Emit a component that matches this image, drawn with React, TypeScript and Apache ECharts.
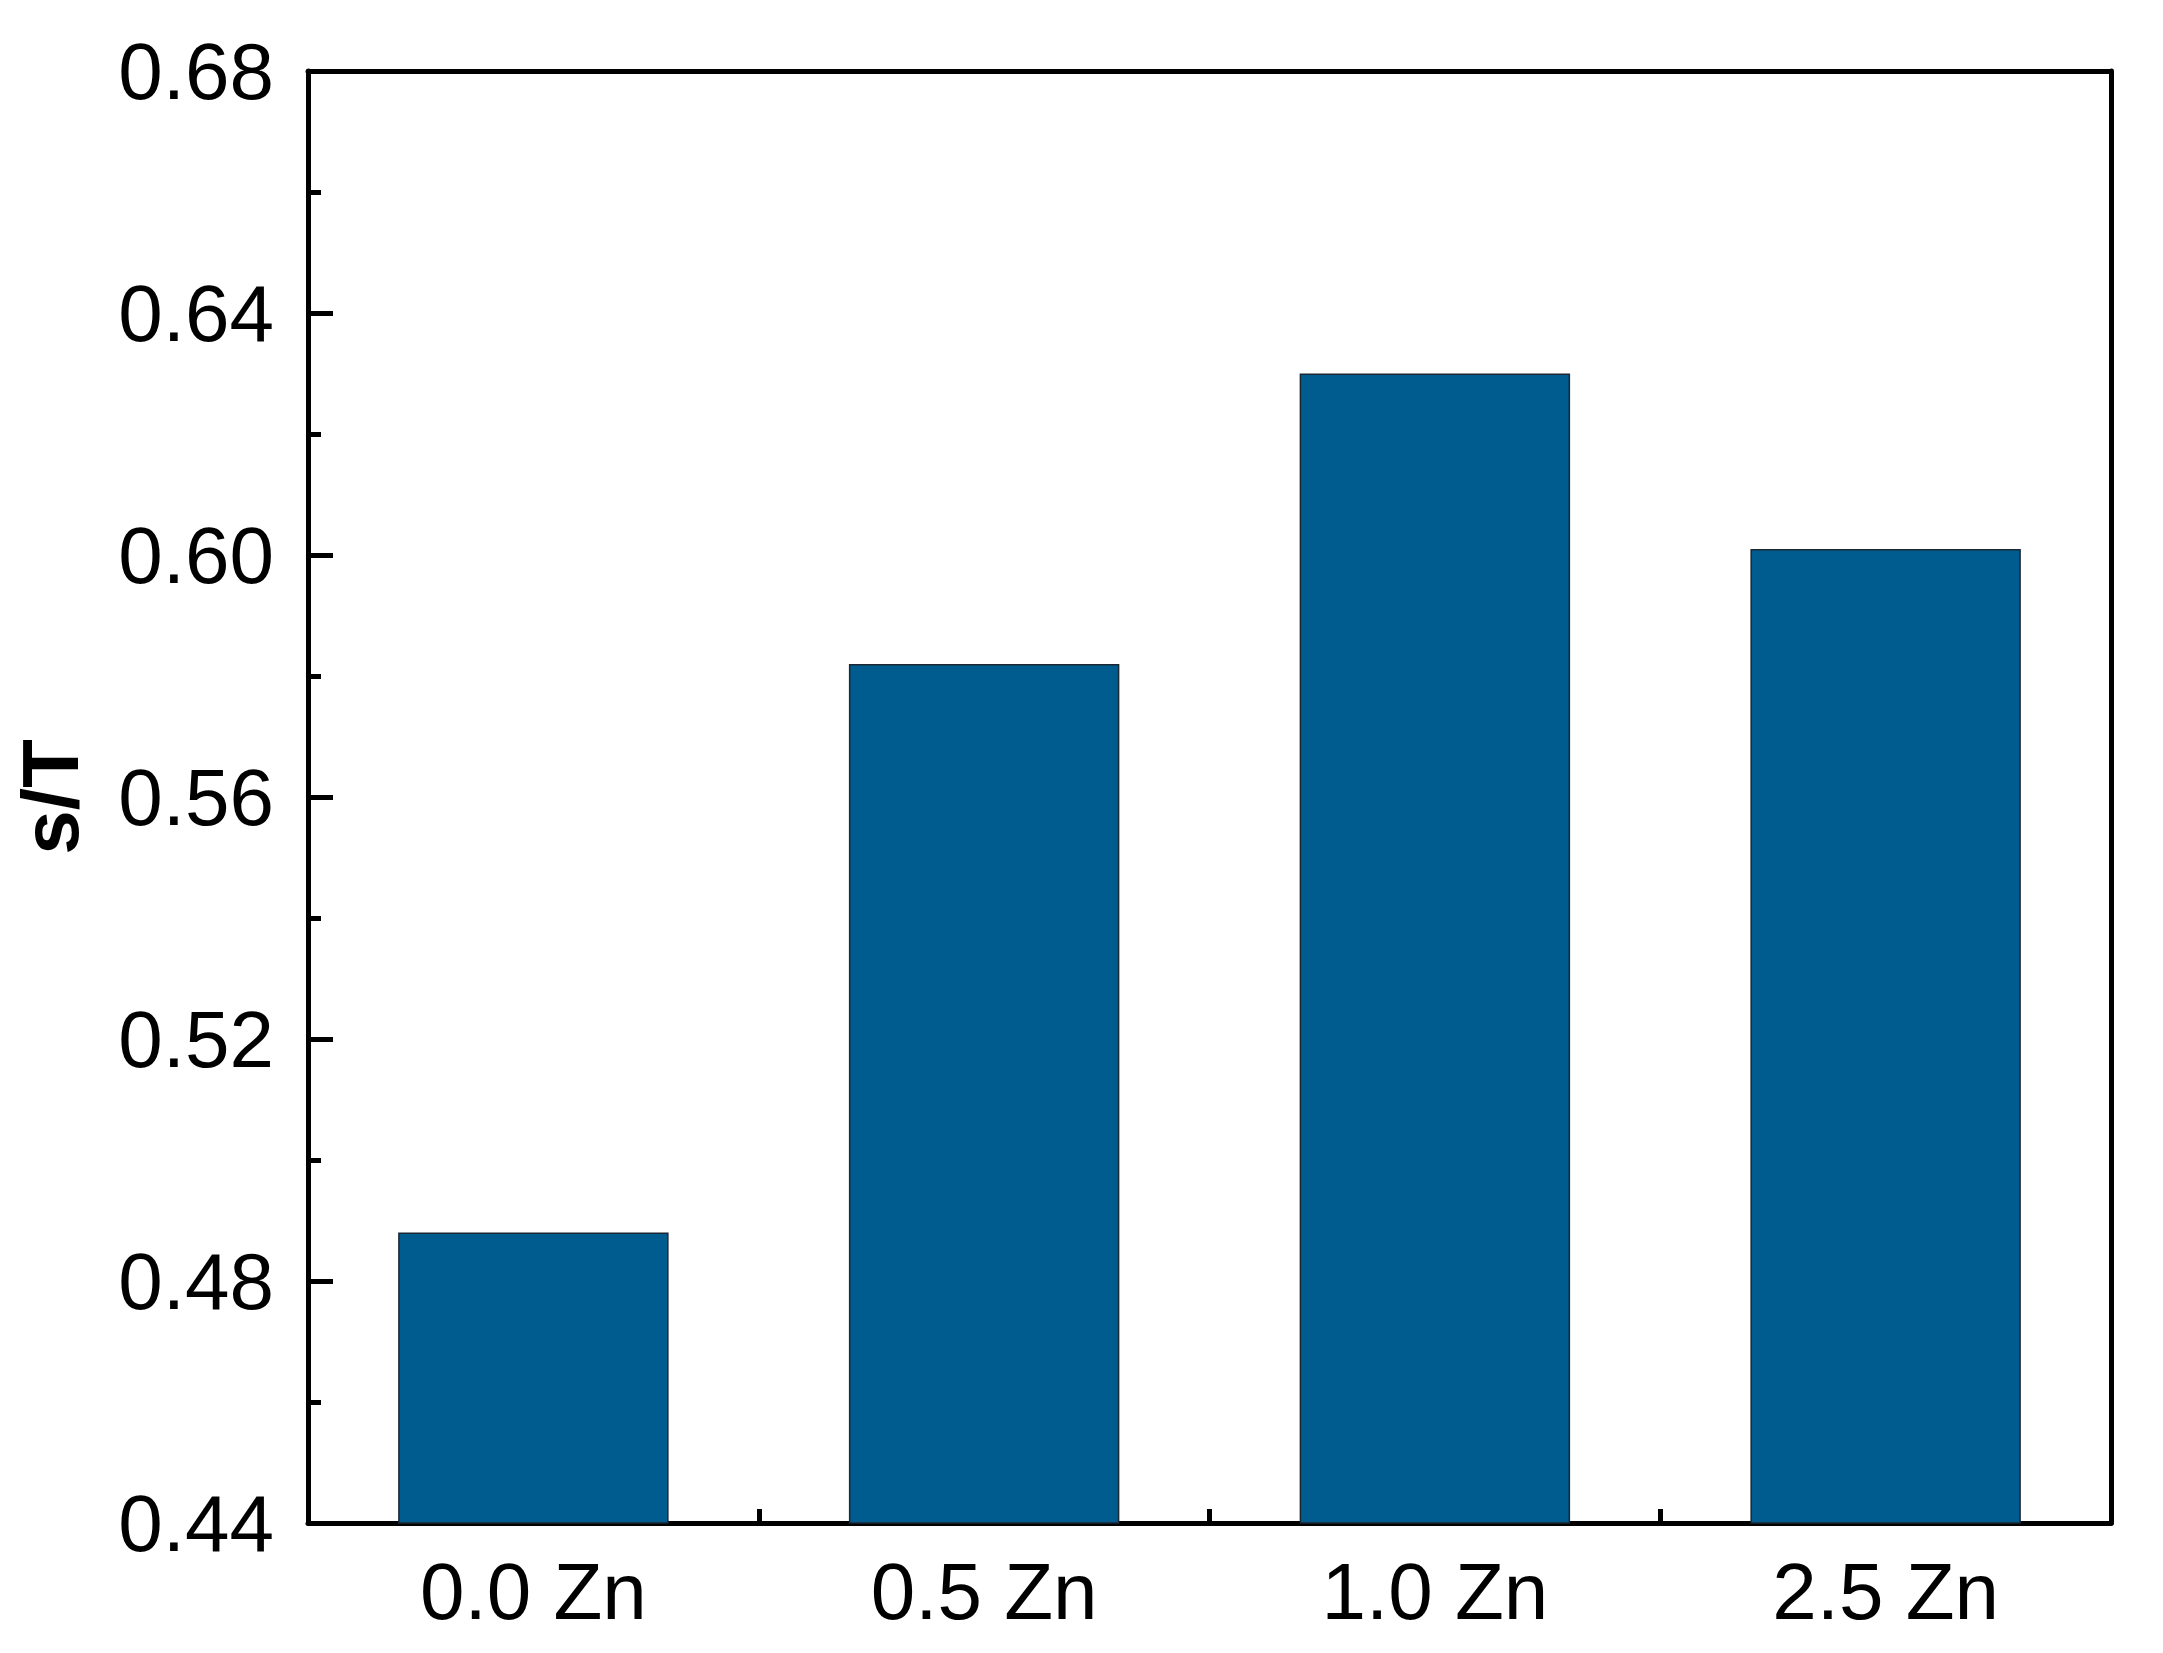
import React, { useEffect, useRef } from "react";
import * as echarts from "echarts";

const categories = ["0.0 Zn", "0.5 Zn", "1.0 Zn", "2.5 Zn"];
const values = [0.488, 0.582, 0.630, 0.601];
const yTicks = [0.44, 0.48, 0.52, 0.56, 0.6, 0.64, 0.68];

export default function App() {
  const ref = useRef<HTMLDivElement>(null);
  useEffect(() => {
    document.body.style.margin = "0";
    const chart = echarts.init(ref.current!, null, { renderer: "svg" });
    const font = "'Liberation Sans', Arial, sans-serif";
    chart.setOption({
      animation: false,
      backgroundColor: "#ffffff",
      grid: { left: 308, top: 71, right: 52, bottom: 130, containLabel: false },
      xAxis: [
        {
          type: "category",
          data: categories,
          position: "bottom",
          axisLine: { show: true, lineStyle: { color: "#000", width: 5 } },
          axisTick: { show: true, inside: true, length: 14, alignWithLabel: false, lineStyle: { color: "#000", width: 5 } },
          axisLabel: { color: "#000", fontSize: 80, fontFamily: font, margin: 28 },
        },
        {
          type: "category",
          data: categories,
          position: "top",
          axisLine: { show: true, lineStyle: { color: "#000", width: 5 } },
          axisTick: { show: false },
          axisLabel: { show: false },
        },
      ],
      yAxis: [
        {
          type: "value",
          min: yTicks[0],
          max: yTicks[yTicks.length - 1],
          interval: 0.04,
          position: "left",
          name: "s/T",
          nameLocation: "middle",
          nameGap: 218,
          nameRotate: 90,
          nameTextStyle: { color: "#000", fontSize: 80, fontWeight: "bold", fontFamily: font },
          axisLine: { show: true, lineStyle: { color: "#000", width: 5 } },
          axisTick: { show: true, inside: true, length: 25, lineStyle: { color: "#000", width: 5 } },
          minorTick: { show: true, splitNumber: 2, length: 13, lineStyle: { color: "#000", width: 5 } },
          splitLine: { show: false },
          axisLabel: {
            color: "#000",
            fontSize: 80,
            fontFamily: font,
            margin: 34,
            formatter: (v: number) => v.toFixed(2),
          },
        },
        {
          type: "value",
          min: yTicks[0],
          max: yTicks[yTicks.length - 1],
          interval: 0.04,
          position: "right",
          axisLine: { show: true, lineStyle: { color: "#000", width: 5 } },
          axisTick: { show: false },
          axisLabel: { show: false },
          splitLine: { show: false },
        },
      ],
      series: [
        {
          type: "bar",
          data: values,
          barWidth: "60%",
          itemStyle: { color: "#005C8F", borderColor: "#1b2733", borderWidth: 1.5 },
        },
      ],
    });
    return () => chart.dispose();
  }, []);
  return <div ref={ref} style={{ width: 2163, height: 1653 }} />;
}
